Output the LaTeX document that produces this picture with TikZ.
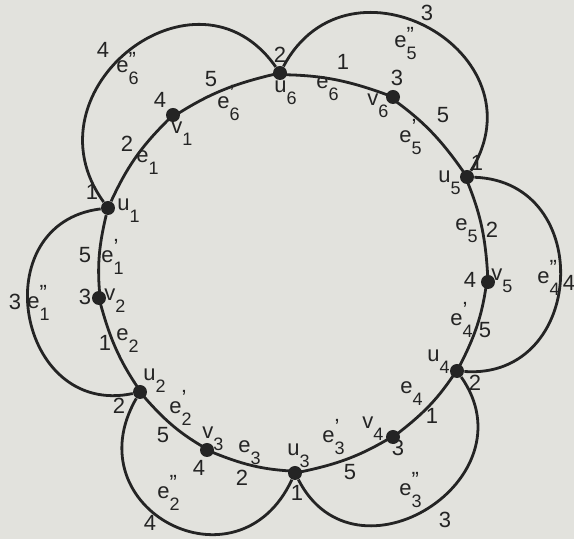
\documentclass[tikz,border=0pt]{standalone}
\usepackage{fontspec}
\setmainfont{Liberation Sans}
\definecolor{paper}{RGB}{226,226,221}
\definecolor{ink}{RGB}{36,36,36}
\newcommand{\lo}[1]{\raisebox{-1ex}{\fontsize{9}{10}\selectfont #1}}
\newcommand{\hi}[2][0.7ex]{\rlap{\raisebox{#1}{#2}}}
\begin{document}
\begin{tikzpicture}[x=0.5pt,y=0.5pt,every node/.style={font=\fontsize{11}{13}\selectfont,text=ink,inner sep=0pt},
  vtx/.style={circle,fill=ink,minimum size=7pt},
  lbl/.style={anchor=base west},
  link/.style={draw=ink,line width=1.4pt}]
  \fill[paper] (0,0) rectangle (574,-539);
  \useasboundingbox (0,0) rectangle (574,-539);
  \node[vtx] (u1) at (108,-208) {};
  \node[vtx] (v1) at (173,-115) {};
  \node[vtx] (u6) at (280,-73) {};
  \node[vtx] (v6) at (393,-97) {};
  \node[vtx] (u5) at (467,-177) {};
  \node[vtx] (v5) at (488,-282) {};
  \node[vtx] (u4) at (457,-371) {};
  \node[vtx] (v4) at (393,-437) {};
  \node[vtx] (u3) at (295,-473) {};
  \node[vtx] (v3) at (207,-450) {};
  \node[vtx] (u2) at (140,-392) {};
  \node[vtx] (v2) at (99,-298) {};
  \draw[link] (u1) to[bend left=10] (v1) to[bend left=10] (u6) to[bend left=10] (v6) to[bend left=10] (u5)
    to[bend left=10] (v5) to[bend left=10] (u4) to[bend left=10] (v4) to[bend left=10] (u3)
    to[bend left=10] (v3) to[bend left=10] (u2) to[bend left=10] (v2) to[bend left=10] (u1);
  \draw[link] (u1) to[out=126,in=125,looseness=1.62] (u6);
  \draw[link] (u6) to[out=62,in=58,looseness=1.66] (u5);
  \draw[link] (u5) to[out=-2,in=-4,looseness=1.6] (u4);
  \draw[link] (u4) to[out=-55,in=-63,looseness=1.66] (u3);
  \draw[link] (u3) to[out=-115,in=-120,looseness=1.86] (u2);
  \draw[link] (u2) to[out=192,in=187,looseness=1.62] (u1);
  \node[lbl] (lu1) at (117,-211) {u\lo{1}};
  \node[lbl] (lv1) at (171,-134) {v\lo{1}};
  \node[lbl] (lu6) at (274,-93) {u\lo{6}};
  \node[lbl] (lv6) at (367,-106) {v\lo{6}};
  \node[lbl] (lu5) at (438,-183) {u\lo{5}};
  \node[lbl] (lv5) at (491,-281) {v\lo{5}};
  \node[lbl] (lu4) at (427,-362) {u\lo{4}};
  \node[lbl] (lv4) at (362,-429) {v\lo{4}};
  \node[lbl] (lu3) at (287,-456) {u\lo{3}};
  \node[lbl] (lv3) at (202,-439) {v\lo{3}};
  \node[lbl] (lu2) at (143,-381) {u\lo{2}};
  \node[lbl] (lv2) at (104,-301) {v\lo{2}};
  \node (cu1) at (92,-192) {1};
  \node (cv1) at (160,-100) {4};
  \node (cu6) at (280,-55) {2};
  \node (cv6) at (397,-78) {3};
  \node (cu5) at (477,-163) {1};
  \node (cv5) at (470,-280) {4};
  \node (cu4) at (475,-383) {2};
  \node (cv4) at (398,-448) {3};
  \node (cu3) at (297,-493) {1};
  \node (cv3) at (199,-468) {4};
  \node (cu2) at (119,-406) {2};
  \node (cv2) at (85,-297) {3};
  \node[lbl] (le1) at (136,-163) {e\lo{1}};
  \node[lbl] (le6a) at (217,-109) {e\hi{'}\lo{6}};
  \node[lbl] (le6) at (316,-89) {e\lo{6}};
  \node[lbl] (le5a) at (399,-143) {e\hi{'}\lo{5}};
  \node[lbl] (le5) at (455,-231) {e\lo{5}};
  \node[lbl] (le4a) at (450,-326) {e\hi{'}\lo{4}};
  \node[lbl] (le4) at (400,-394) {e\lo{4}};
  \node[lbl] (le3a) at (322,-443) {e\hi{'}\lo{3}};
  \node[lbl] (le3) at (238,-453) {e\lo{3}};
  \node[lbl] (le2a) at (169,-414) {e\hi{'}\lo{2}};
  \node[lbl] (le2) at (116,-341) {e\lo{2}};
  \node[lbl] (le1a) at (101,-263) {e\hi{'}\lo{1}};
  \node (ce1) at (127,-144) {2};
  \node (ce6a) at (211,-79) {5};
  \node (ce6) at (343,-62) {1};
  \node (ce5a) at (443,-115) {5};
  \node (ce5) at (492,-230) {2};
  \node (ce4a) at (485,-330) {5};
  \node (ce4) at (432,-416) {1};
  \node (ce3a) at (350,-472) {5};
  \node (ce3) at (242,-478) {2};
  \node (ce2a) at (163,-435) {5};
  \node (ce2) at (105,-343) {1};
  \node (ce1a) at (85,-255) {5};
  \node[lbl] (le6b) at (116,-73) {e\hi[0.5ex]{''}\lo{6}};
  \node[lbl] (le5b) at (394,-48) {e\hi[0.5ex]{''}\lo{5}};
  \node[lbl] (le4b) at (537,-284) {e\hi{''}\lo{4}};
  \node[lbl] (le3b) at (399,-496) {e\hi{''}\lo{3}};
  \node[lbl] (le2b) at (157,-499) {e\hi{''}\lo{2}};
  \node[lbl] (le1b) at (27,-309) {e\hi{''}\lo{1}};
  \node (ce6b) at (103,-50) {4};
  \node (ce5b) at (427,-13) {3};
  \node (ce4b) at (569,-283) {4};
  \node (ce3b) at (445,-520) {3};
  \node (ce2b) at (150,-523) {4};
  \node (ce1b) at (15,-302) {3};
\end{tikzpicture}
\end{document}
